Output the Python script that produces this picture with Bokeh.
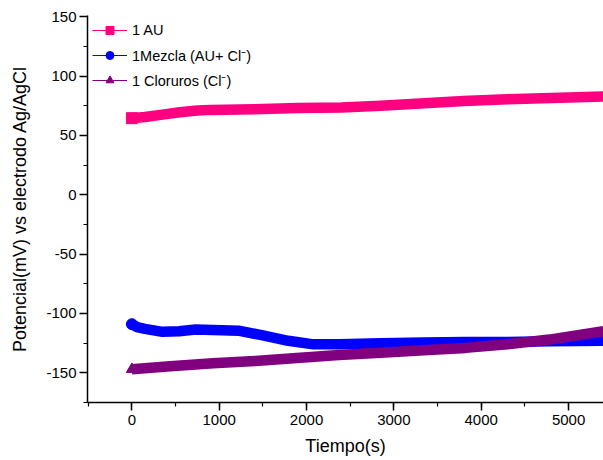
from bokeh.plotting import figure
from bokeh.models import SingleIntervalTicker, Range1d, Legend, LegendItem, NumeralTickFormatter
from bokeh.embed import file_html
from bokeh.resources import INLINE

# Data
t_au = [0, 150, 350, 550, 750, 900, 1400, 1900, 2400, 2850, 3350, 3800, 4300, 4800, 5400]
v_au = [64.5, 65.5, 67.5, 69.5, 71, 71.5, 72, 73, 73.5, 75, 77, 79, 80.5, 81.5, 82.7]

t_mez = [0, 60, 150, 350, 540, 730, 930, 1220, 1500, 1790, 2080, 2370, 2850, 3340, 3820, 4300, 4780, 5400]
v_mez = [-109, -111.5, -113, -115.5, -115, -113.5, -114, -114.5, -118.5, -123, -126, -126, -125, -124.5, -124, -124, -123.5, -123]

t_clo = [0, 440, 930, 1410, 1890, 2370, 2850, 3340, 3820, 4300, 4780, 5400]
v_clo = [-147, -144.5, -142, -140, -137.5, -135, -133, -131, -129, -126, -122, -115]

names = ["1 AU", "1Mezcla (AU+ Cl\u207b)", "1 Cloruros (Cl\u207b)"]
colors = ["#FF0080", "#0000FF", "#800080"]
markers = ["square", "circle", "triangle"]

FONT = "Liberation Sans"
NAN = float("nan")

p = figure(width=603, height=460, output_backend="svg", toolbar_location=None,
           x_range=Range1d(-508, 5400), y_range=Range1d(-175, 151),
           min_border_left=87, min_border_right=0, min_border_top=15, min_border_bottom=58)
p.outline_line_color = None
p.grid.visible = False
p.background_fill_color = "white"
p.border_fill_color = "white"

series = [(t_au, v_au), (t_mez, v_mez), (t_clo, v_clo)]
items = []
for (t, v), name, c, m in zip(series, names, colors, markers):
    p.line(t, v, line_color=c, line_width=10.5, line_join="round")
    p.scatter([t[0]], [v[0]], marker=m, size=11, fill_color=c, line_color=c)
    lr = p.line([NAN], [NAN], line_color=c, line_width=1.2)
    sr = p.scatter([NAN], [NAN], marker=m, size=9, fill_color=c, line_color=c)
    items.append(LegendItem(label=name, renderers=[lr, sr]))

legend = Legend(items=items, location=(5, 312), border_line_color=None,
                background_fill_alpha=0, glyph_width=35, glyph_height=20,
                label_standoff=5, spacing=5, padding=5, margin=0,
                label_text_font=FONT, label_text_font_size="14.5px", label_text_color="black")
p.add_layout(legend)

for ax in (p.xaxis[0], p.yaxis[0]):
    ax.axis_line_color = "black"
    ax.axis_line_width = 1.5
    ax.major_tick_line_color = "black"
    ax.major_tick_line_width = 1.5
    ax.minor_tick_line_color = "black"
    ax.minor_tick_line_width = 1.2
    ax.major_tick_in = 0
    ax.major_tick_out = 8
    ax.minor_tick_in = 0
    ax.minor_tick_out = 4
    ax.major_label_text_font = FONT
    ax.major_label_text_font_size = "15px"
    ax.major_label_text_color = "black"
    ax.axis_label_text_font = FONT
    ax.axis_label_text_font_size = "18px"
    ax.axis_label_text_font_style = "normal"
    ax.axis_label_text_color = "black"
    ax.formatter = NumeralTickFormatter(format="0")

p.xaxis[0].ticker = SingleIntervalTicker(interval=1000, num_minor_ticks=2)
p.yaxis[0].ticker = SingleIntervalTicker(interval=50, num_minor_ticks=2)
p.xaxis[0].axis_label = "Tiempo(s)"
p.yaxis[0].axis_label = "Potencial(mV) vs electrodo Ag/AgCl"
p.xaxis[0].major_label_standoff = 4
p.yaxis[0].major_label_standoff = 3
p.xaxis[0].axis_label_standoff = 8
p.yaxis[0].axis_label_standoff = 13

open("out.html", "w").write(file_html(p, INLINE))
